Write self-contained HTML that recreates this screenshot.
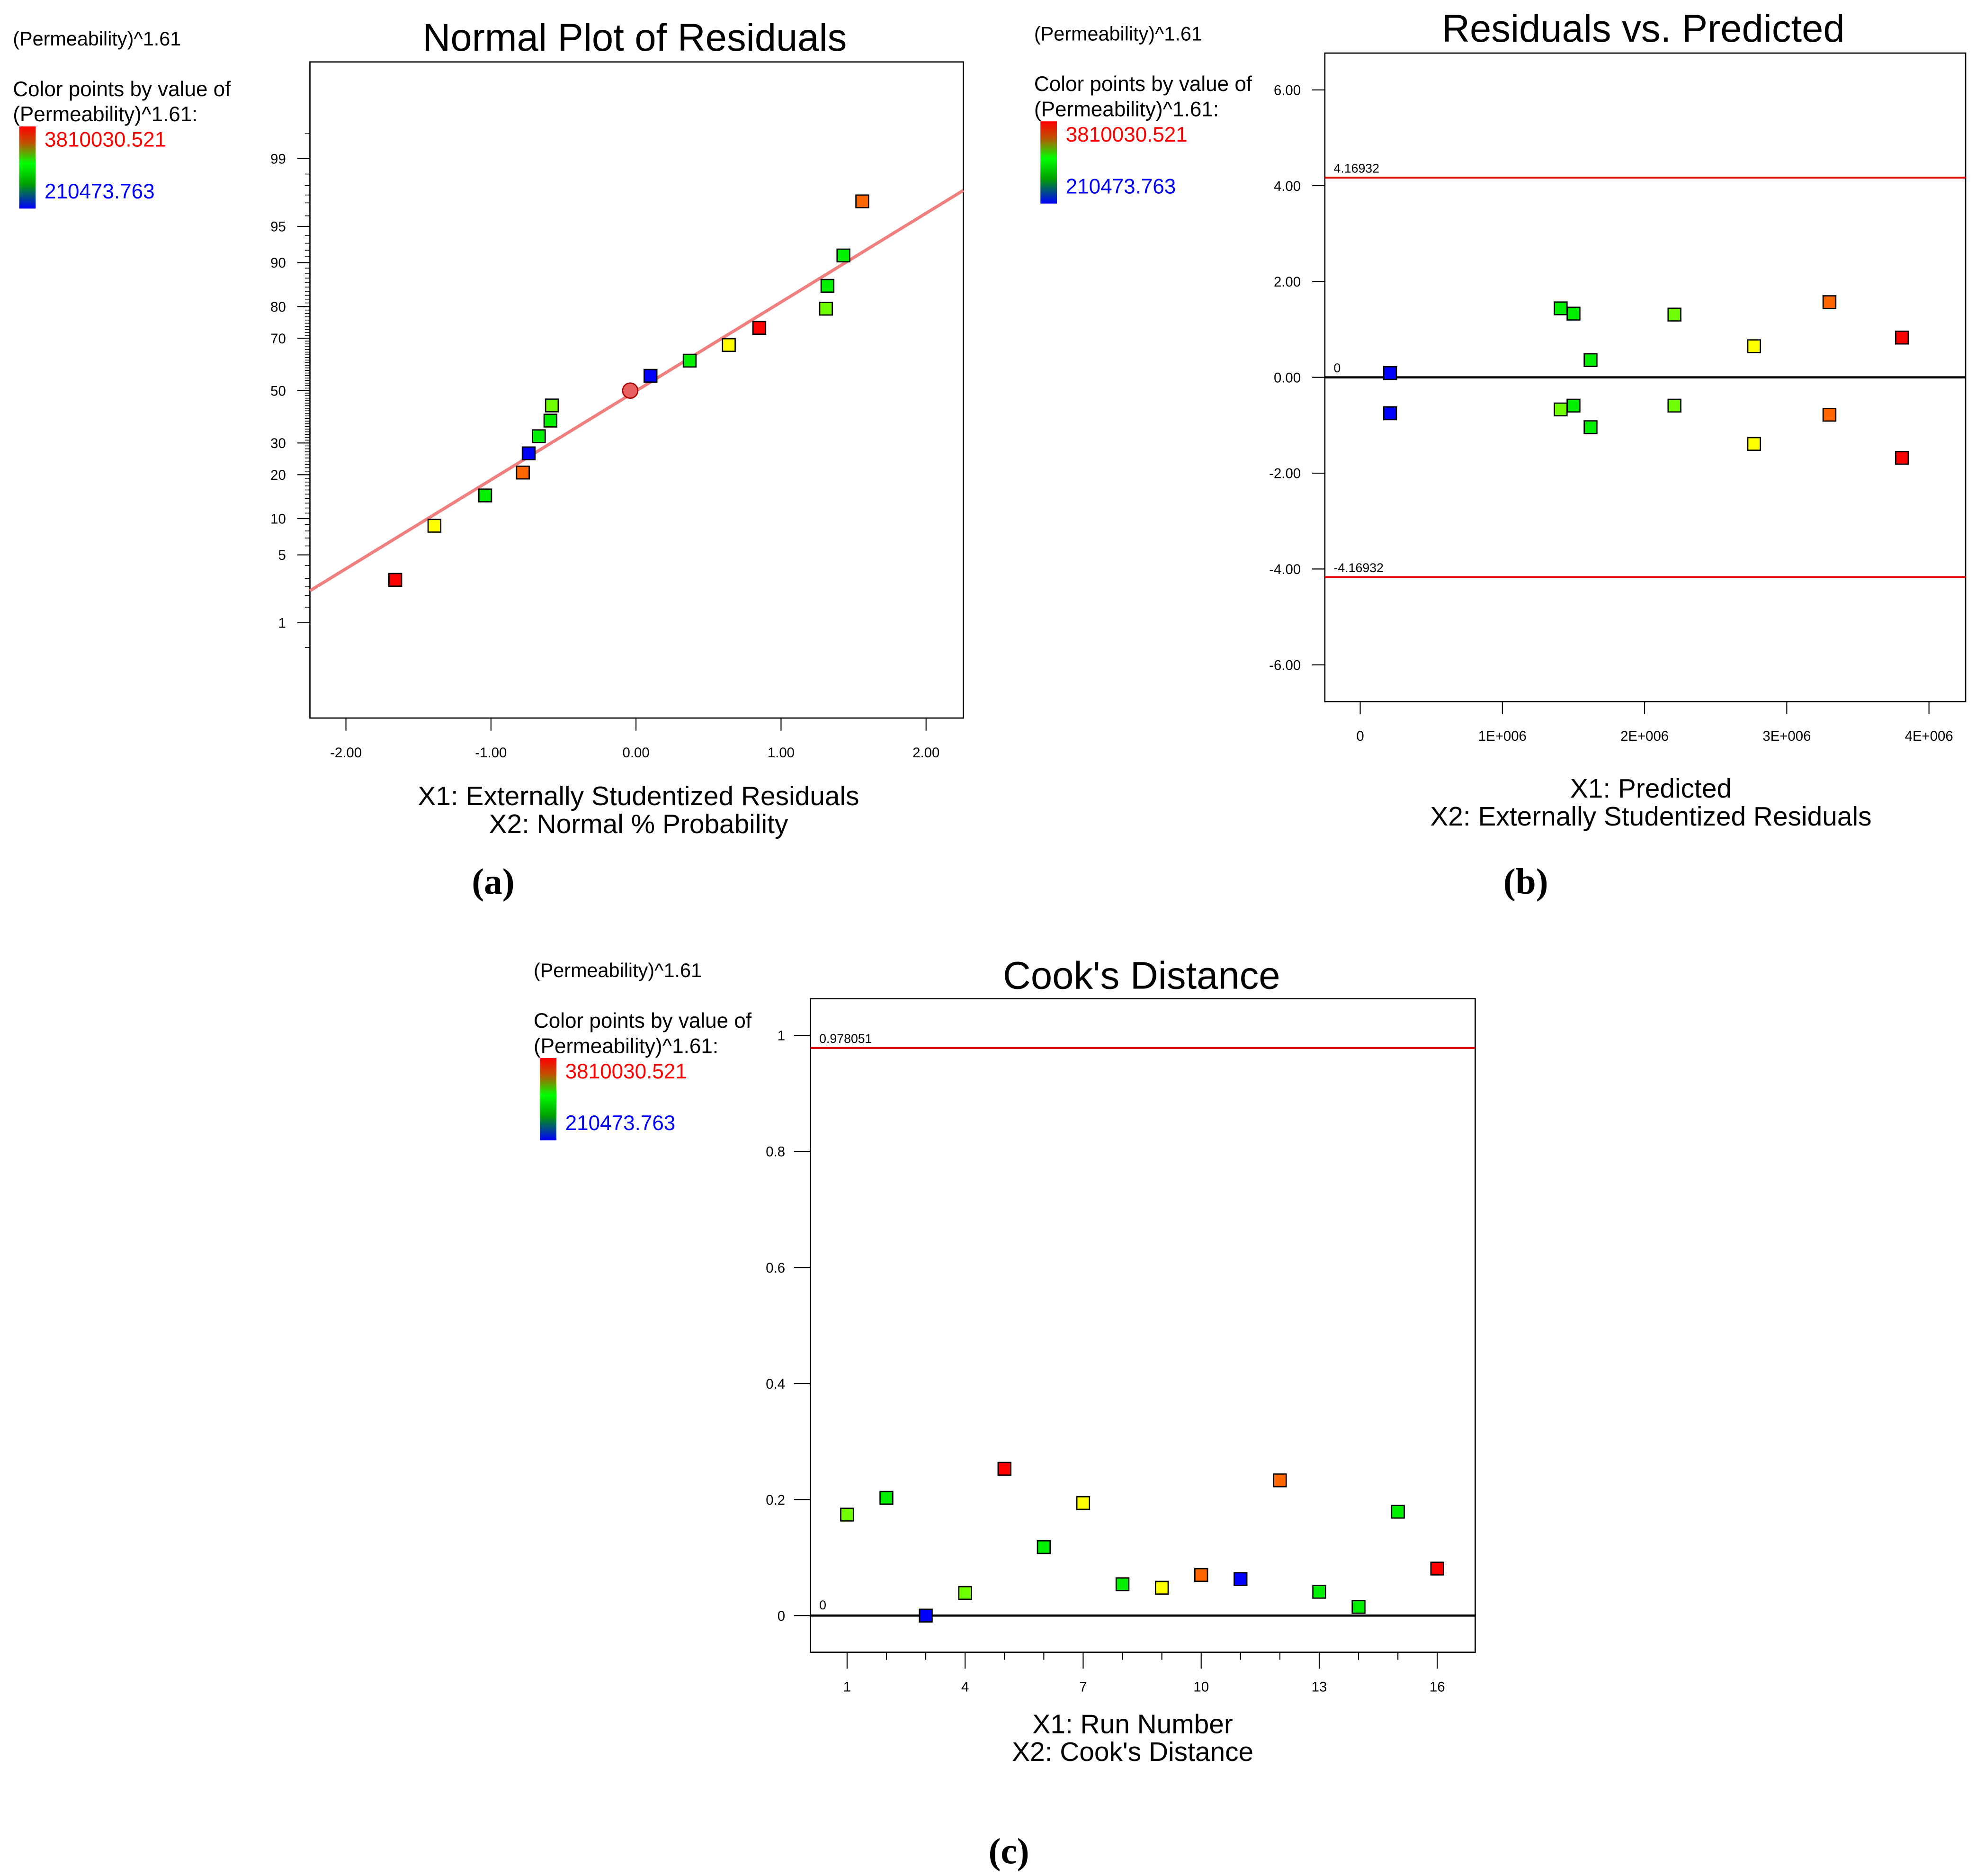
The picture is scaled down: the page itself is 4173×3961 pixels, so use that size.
<!DOCTYPE html>
<html><head><meta charset="utf-8"><style>
html,body{margin:0;padding:0;background:#fff;}
svg{display:block;}
text{font-family:"Liberation Sans",sans-serif;}
text.cap{font-family:"Liberation Serif",serif;}
</style></head><body>
<svg id="fig" width="4173" height="3961" viewBox="0 0 1563 1484" xmlns="http://www.w3.org/2000/svg">
<defs>
<linearGradient id="cb" x1="0" y1="0" x2="0" y2="1">
<stop offset="0" stop-color="#ff0000"/><stop offset="0.2" stop-color="#c05000"/><stop offset="0.45" stop-color="#00ff00"/><stop offset="0.7" stop-color="#00a000"/><stop offset="1" stop-color="#0000ff"/>
</linearGradient>
</defs>
<g id="root"></g>
</svg>
<script>
// ---------- Panel (a) data ----------
const normResiduals = [-1.66,-1.39,-1.04,-0.78,-0.74,-0.67,-0.59,-0.58,-0.04,0.10,0.37,0.64,0.85,1.31,1.32,1.43,1.56];
const normPct = [2.9,8.8,14.7,20.6,26.5,32.4,38.2,44.1,50,55.9,61.8,67.6,73.5,79.4,85.3,91.2,97.1];
const normColors = ['r','y','g','o','b','g','g','l','c','b','g','y','r','l','g','g','o'];
const normXTicks = [-2,-1,0,1,2];
const normYTicks = [1,5,10,20,30,50,70,80,90,95,99];
// ---------- Panel (b) data ----------
const predValues = [0.21e6,0.21e6,1.41e6,1.50e6,1.41e6,1.50e6,1.62e6,1.62e6,2.21e6,2.21e6,2.77e6,2.77e6,3.30e6,3.30e6,3.81e6,3.81e6];
const predResiduals = [0.09,-0.75,1.44,1.33,-0.67,-0.59,0.36,-1.04,1.31,-0.59,0.65,-1.39,1.57,-0.78,0.83,-1.68];
const predColors = ['b','b','g','g','l','g','g','g','l','l','y','y','o','o','r','r'];
const predXTicks = [0,1e6,2e6,3e6,4e6];
const predXLabels = ['0','1E+006','2E+006','3E+006','4E+006'];
const predYTicks = [-6,-4,-2,0,2,4,6];
const residLimit = 4.16932;
// ---------- Panel (c) data ----------
const runNumbers = [1,2,3,4,5,6,7,8,9,10,11,12,13,14,15,16];
const cooksValues = [0.174,0.203,0.0,0.039,0.253,0.118,0.194,0.054,0.048,0.070,0.063,0.233,0.041,0.015,0.179,0.081];
const cooksColors = ['l','g','b','l','r','g','y','g','y','o','b','o','g','g','g','r'];
const cooksYTicks = [0,0.2,0.4,0.6,0.8,1];
const cooksXTicks = [1,4,7,10,13,16];
const cooksLimit = 0.978051;

const COL={r:'#ff0000',o:'#ff6600',y:'#ffff00',g:'#00f000',l:'#70ff00',b:'#0000ff',c:'#e86060'};
const NS='http://www.w3.org/2000/svg';
const root=document.getElementById('root');
function mk(tag,attrs,parent,txt){const e=document.createElementNS(NS,tag);for(const k in attrs)e.setAttribute(k,attrs[k]);if(txt!==undefined)e.textContent=txt;(parent||root).appendChild(e);return e;}
function erfinv(x){const a=0.147;const ln=Math.log(1-x*x);const t=2/(Math.PI*a)+ln/2;return Math.sign(x)*Math.sqrt(Math.sqrt(t*t-ln/a)-t);}
function probit(p){return Math.SQRT2*erfinv(2*p/100-1);}
function legend(x,y){
  const g=mk('g',{});
  
  
  mk('text',{x:x,y:y,'font-size':15.5},g,'(Permeability)^1.61');
  mk('text',{x:x,y:y+40,'font-size':16.5},g,'Color points by value of');
  mk('text',{x:x,y:y+60,'font-size':16.5},g,'(Permeability)^1.61:');
  const bar=mk('rect',{x:x+5,y:y+64,width:13,height:65,fill:'url(#cb)'},g);
  
  
  mk('text',{x:x+25,y:y+80,'font-size':16.5,fill:'#ff0000'},g,'3810030.521');
  mk('text',{x:x+25,y:y+121,'font-size':16.5,fill:'#0000ff'},g,'210473.763');
}
function marker(cx,cy,c,name){
  const r=mk('rect',{x:cx-5,y:cy-5,width:10,height:10,fill:COL[c],stroke:'#000','stroke-width':1});
  
  
}
function caption(x,y,t,name){
  const c=mk('text',{x:x,y:y,'font-size':29,'font-weight':'bold','text-anchor':'middle','class':'cap'},null,t);
  
  
}

// ---------- Panel (a) ----------
legend(10,36);
mk('text',{x:502,y:40,'font-size':30.5,'text-anchor':'middle',},null,'Normal Plot of Residuals');
const A={l:245,r:762,t:49,b:568};
const ax=v=>503+v*114.75, ay=p=>309-probit(p)*79;
mk('rect',{x:A.l,y:A.t,width:A.r-A.l,height:A.b-A.t,fill:'none',stroke:'#000','stroke-width':1,});
const minor=[];for(let p=1;p<=99;p++)minor.push(p);[0.5,1.5,2,2.5,3,97,97.5,98,98.5,99.5].forEach(p=>minor.push(p));
minor.forEach(p=>{const y=ay(p);if(y>A.t&&y<A.b)mk('line',{x1:A.l-4,x2:A.l,y1:y,y2:y,stroke:'#000','stroke-width':0.6});});
normYTicks.forEach(p=>{const y=ay(p);mk('line',{x1:A.l-10,x2:A.l,y1:y,y2:y,stroke:'#000','stroke-width':0.8});
  mk('text',{x:A.l-19,y:y+4,'font-size':11,'text-anchor':'end'},null,String(p));});
normXTicks.forEach(v=>{const x=ax(v);mk('line',{x1:x,x2:x,y1:A.b,y2:A.b+10,stroke:'#000','stroke-width':0.8});
  mk('text',{x:x,y:A.b+31,'font-size':11,'text-anchor':'middle'},null,v.toFixed(2));});
const lz=r=>0.89*r;
const fl=mk('line',{x1:A.l,y1:309-lz(-2.252)*79,x2:A.r,y2:309-lz(2.253)*79,stroke:'#f08080','stroke-width':2.5});


normResiduals.forEach((v,i)=>{
  if(normColors[i]==='c'){const c=mk('circle',{cx:ax(v),cy:ay(normPct[i]),r:6,fill:COL.c,stroke:'#a00','stroke-width':1});
    
    }
  else marker(ax(v),ay(normPct[i]),normColors[i],'residual-point');
});
mk('text',{x:505,y:637,'font-size':21.3,'text-anchor':'middle'},null,'X1: Externally Studentized Residuals');
mk('text',{x:505,y:659,'font-size':21.3,'text-anchor':'middle'},null,'X2: Normal % Probability');
caption(390,707,'(a)','caption-a');

// ---------- Panel (b) ----------
legend(818,32);
mk('text',{x:1300,y:33,'font-size':30.5,'text-anchor':'middle',},null,'Residuals vs. Predicted');
const B={l:1048,r:1555,t:42,b:555};
const bx=v=>1076+v/1e6*112.5, by=v=>298.5-v*37.9;
mk('rect',{x:B.l,y:B.t,width:B.r-B.l,height:B.b-B.t,fill:'none',stroke:'#000','stroke-width':1,});
predYTicks.forEach(v=>{const y=by(v);mk('line',{x1:B.l-10,x2:B.l,y1:y,y2:y,stroke:'#000','stroke-width':0.8});
  mk('text',{x:B.l-19,y:y+4,'font-size':11,'text-anchor':'end'},null,v.toFixed(2));});
predXTicks.forEach((v,i)=>{const x=bx(v);mk('line',{x1:x,x2:x,y1:B.b,y2:B.b+10,stroke:'#000','stroke-width':0.8});
  mk('text',{x:x,y:B.b+31,'font-size':11,'text-anchor':'middle'},null,predXLabels[i]);});
[residLimit,-residLimit].forEach(v=>{const y=by(v);
  const l=mk('line',{x1:B.l,x2:B.r,y1:y,y2:y,stroke:'#e00000','stroke-width':1.5});
  
  
  mk('text',{x:B.l+7,y:y-4,'font-size':10},null,String(v));});
mk('line',{x1:B.l,x2:B.r,y1:by(0),y2:by(0),stroke:'#000','stroke-width':1.8,});
mk('text',{x:B.l+7,y:by(0)-4,'font-size':10},null,'0');
predValues.forEach((v,i)=>marker(bx(v),by(predResiduals[i]),predColors[i],'predicted-point'));
mk('text',{x:1306,y:631,'font-size':21.3,'text-anchor':'middle'},null,'X1: Predicted');
mk('text',{x:1306,y:653,'font-size':21.3,'text-anchor':'middle'},null,'X2: Externally Studentized Residuals');
caption(1207,707,'(b)','caption-b');

// ---------- Panel (c) ----------
legend(422,773);
mk('text',{x:903,y:782,'font-size':30.5,'text-anchor':'middle',},null,"Cook's Distance");
const C={l:641,r:1167,t:790,b:1307};
const cx=v=>670+(v-1)*31.13, cy=v=>1278-v*459;
mk('rect',{x:C.l,y:C.t,width:C.r-C.l,height:C.b-C.t,fill:'none',stroke:'#000','stroke-width':1,});
cooksYTicks.forEach(v=>{const y=cy(v);mk('line',{x1:C.l-13,x2:C.l,y1:y,y2:y,stroke:'#000','stroke-width':0.8});
  mk('text',{x:C.l-20,y:y+4,'font-size':11,'text-anchor':'end'},null,String(v));});
runNumbers.forEach(v=>{const x=cx(v);const maj=cooksXTicks.indexOf(v)>=0;
  mk('line',{x1:x,x2:x,y1:C.b,y2:C.b+(maj?13:6),stroke:'#000','stroke-width':0.8});});
cooksXTicks.forEach(v=>mk('text',{x:cx(v),y:C.b+31,'font-size':11,'text-anchor':'middle'},null,String(v)));
const cl=mk('line',{x1:C.l,x2:C.r,y1:cy(cooksLimit),y2:cy(cooksLimit),stroke:'#e00000','stroke-width':1.5});


mk('text',{x:C.l+7,y:cy(cooksLimit)-4,'font-size':10},null,String(cooksLimit));
mk('line',{x1:C.l,x2:C.r,y1:cy(0),y2:cy(0),stroke:'#000','stroke-width':1.8,});
mk('text',{x:C.l+7,y:cy(0)-5,'font-size':10},null,'0');
runNumbers.forEach((v,i)=>marker(cx(v),cy(cooksValues[i]),cooksColors[i],'cooks-point'));
mk('text',{x:896,y:1371,'font-size':21.3,'text-anchor':'middle'},null,'X1: Run Number');
mk('text',{x:896,y:1393,'font-size':21.3,'text-anchor':'middle'},null,"X2: Cook's Distance");
caption(798,1474,'(c)','caption-c');
</script>
</body></html>
